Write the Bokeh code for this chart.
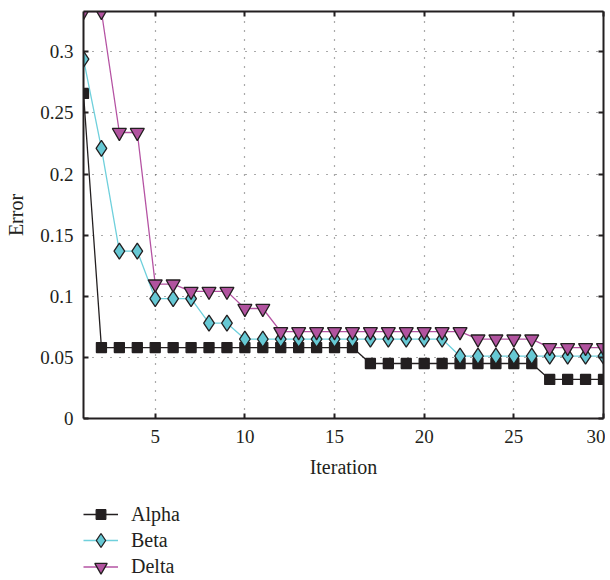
from bokeh.plotting import figure
from bokeh.layouts import column
from bokeh.models import Legend, LegendItem, LinearAxis, Range1d, FixedTicker, ColumnDataSource
from bokeh.embed import file_html
from bokeh.resources import INLINE

iterations = list(range(1, 31))
alpha = [0.266] + [0.058] * 15 + [0.045] * 10 + [0.032] * 4
beta = [0.294, 0.221, 0.137, 0.137, 0.098, 0.098, 0.098, 0.078, 0.078] + [0.065] * 12 + [0.051] * 9
delta = [0.333, 0.333, 0.234, 0.234, 0.110, 0.110, 0.104, 0.104, 0.104, 0.090, 0.090] + [0.071] * 11 + [0.065] * 4 + [0.058] * 4
series_names = ["Alpha", "Beta", "Delta"]

x_ticks = [5, 10, 15, 20, 25, 30]
y_ticks = [0, 0.05, 0.1, 0.15, 0.2, 0.25, 0.3]
y_tick_labels = ["0", "0.05", "0.1", "0.15", "0.2", "0.25", "0.3"]

FONT = "Liberation Serif"
DARK = "#231f20"
styles = [
    dict(line_color=DARK, marker="square", size=10, fill_color=DARK, legend_box=24),
    dict(line_color="#6fd0dc", marker="diamond", size=16, fill_color="#66c8d4", legend_box=38),
    dict(line_color="#b553a3", marker="inverted_triangle", size=14, fill_color="#b1539f", legend_box=31),
]

p = figure(width=605, height=493, output_backend="svg", toolbar_location=None,
           x_range=Range1d(1, 30), y_range=Range1d(0, 0.333),
           min_border_left=83, min_border_right=2, min_border_top=11, min_border_bottom=75,
           x_axis_label="Iteration", y_axis_label="Error")
p.outline_line_color = None

for ax in (p.xaxis[0], p.yaxis[0]):
    ax.major_tick_in = 5
    ax.major_tick_out = 0
    ax.minor_tick_line_color = None
    ax.axis_line_width = 2
    ax.axis_line_color = DARK
    ax.major_tick_line_width = 2
    ax.major_tick_line_color = DARK
    ax.major_label_text_font = FONT
    ax.major_label_text_font_size = "19px"
    ax.major_label_text_color = DARK
    ax.axis_label_text_font = FONT
    ax.axis_label_text_font_size = "20px"
    ax.axis_label_text_font_style = "normal"
    ax.axis_label_text_color = DARK

p.xaxis[0].ticker = FixedTicker(ticks=x_ticks)
p.yaxis[0].ticker = FixedTicker(ticks=y_ticks)
p.yaxis[0].major_label_overrides = dict(zip(y_ticks, y_tick_labels))
p.xaxis[0].major_label_standoff = 11
p.yaxis[0].major_label_standoff = 10
p.xaxis[0].axis_label_standoff = 10
p.yaxis[0].axis_label_standoff = 10

common = dict(major_label_text_font_size="0px", major_tick_in=5, major_tick_out=0,
              minor_tick_line_color=None, axis_line_width=2, axis_line_color=DARK,
              major_tick_line_width=2, major_tick_line_color=DARK, major_label_standoff=0)
p.add_layout(LinearAxis(ticker=FixedTicker(ticks=x_ticks), **common), "above")
p.add_layout(LinearAxis(ticker=FixedTicker(ticks=y_ticks), **common), "right")

for g in (p.xgrid[0], p.ygrid[0]):
    g.grid_line_color = "#555555"
    g.grid_line_dash = "1 8"
    g.grid_line_width = 1.2
p.xgrid[0].ticker = FixedTicker(ticks=x_ticks[:-1])
p.ygrid[0].ticker = FixedTicker(ticks=y_ticks[1:])

src = ColumnDataSource(dict(x=iterations, Alpha=alpha, Beta=beta, Delta=delta))

for name, st in zip(series_names, styles):
    p.line("x", name, source=src, line_color=st["line_color"], line_width=1.3)
    p.scatter("x", name, source=src, marker=st["marker"], size=st["size"],
              fill_color=st["fill_color"], line_color=DARK, line_width=1.3)

# legend below the chart, in its own strip (its glyphs sit outside the visible range)
LF_H = 85
lf = figure(width=605, height=LF_H, output_backend="svg", toolbar_location=None,
            x_range=Range1d(0, 1), y_range=Range1d(0, 1), min_border=0)
lf.axis.visible = False
lf.grid.visible = False
lf.outline_line_color = None
offscreen = ColumnDataSource(dict(x=[-5, -4], y=[-5, -4]))
row_centers = [21, 47, 73]  # distance of each legend row from the strip's top
for name, st, cy in zip(series_names, styles, row_centers):
    l = lf.line("x", "y", source=offscreen, line_color=st["line_color"], line_width=1.3)
    m = lf.scatter("x", "y", source=offscreen, marker=st["marker"], size=st["size"],
                   fill_color=st["fill_color"], line_color=DARK, line_width=1.3)
    h = st["legend_box"]
    lg = Legend(items=[LegendItem(label=name, renderers=[l, m])],
                location=(0, LF_H - cy - h / 2), border_line_color=None, background_fill_alpha=0,
                label_text_font=FONT, label_text_font_size="20px", label_text_color=DARK,
                glyph_width=35, glyph_height=h, spacing=0, padding=0, margin=0,
                label_standoff=13, label_height=h)
    lf.add_layout(lg, "center")

layout = column(p, lf, spacing=0)
open("out.html", "w").write(file_html(layout, INLINE))
